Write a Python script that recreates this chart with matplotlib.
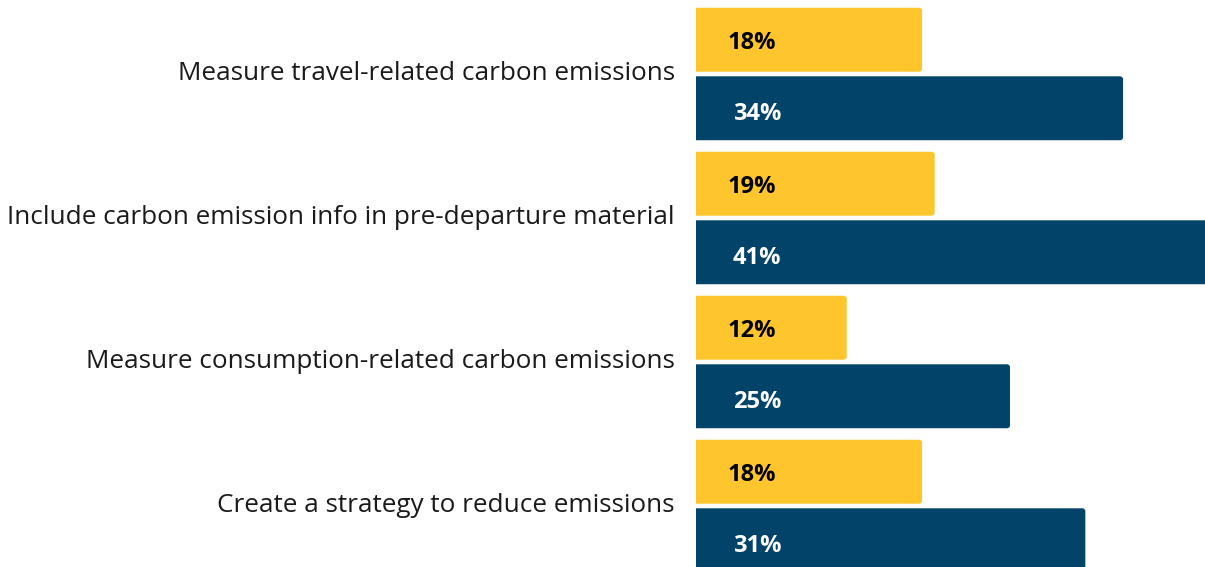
import matplotlib.pyplot as plt
from matplotlib.patches import FancyBboxPatch

# data
categories = ["Measure travel-related carbon emissions",
              "Include carbon emission info in pre-departure material",
              "Measure consumption-related carbon emissions",
              "Create a strategy to reduce emissions"]
yellow_vals = [18, 19, 12, 18]
blue_vals = [34, 41, 25, 31]

YELLOW = "#FFC52C"
BLUE = "#02436A"

fig = plt.figure(figsize=(12.05, 5.67), dpi=100)
ax = fig.add_axes([696/1205, 0, 509/1205, 1])

px_per_pct = 12.56
ax.set_xlim(0, 509/px_per_pct)
ax.set_ylim((567-74)/144, -74/144)

h = 0.444
off = 0.238
ys = list(range(len(categories)))
b1 = ax.barh([y - off for y in ys], yellow_vals, height=h, color=YELLOW)
b2 = ax.barh([y + off for y in ys], blue_vals, height=h, color=BLUE)

# swap plain rectangles for ones with rounded right corners
r = 0.24
for bars in (b1, b2):
    for rect in bars:
        x0, y0 = rect.get_x(), rect.get_y()
        w, hh = rect.get_width(), rect.get_height()
        rect.set_visible(False)
        ax.add_patch(FancyBboxPatch((x0 - 1, y0), w + 1, hh,
                                    boxstyle=f"round,pad=0,rounding_size={r}",
                                    mutation_aspect=(3/144)/r,
                                    fc=rect.get_facecolor(), ec="none"))

for y, v in zip(ys, yellow_vals):
    ax.annotate(f"{v}%", (0, y - off), xytext=(32, -3), textcoords="offset pixels",
                ha="left", va="center", fontsize=17, fontweight="bold",
                family="Open Sans", color="black")
for y, v in zip(ys, blue_vals):
    ax.annotate(f"{v}%", (0, y + off), xytext=(37, -6), textcoords="offset pixels",
                ha="left", va="center", fontsize=17, fontweight="bold",
                family="Open Sans", color="white")

for y, c in zip(ys, categories):
    ax.annotate(c, (0, y), xytext=(-21, 0), textcoords="offset pixels",
                ha="right", va="center", fontsize=18.8, family="Open Sans",
                color="#1a1a1a", annotation_clip=False)

ax.axis("off")
fig.savefig("out.png", dpi=100)
